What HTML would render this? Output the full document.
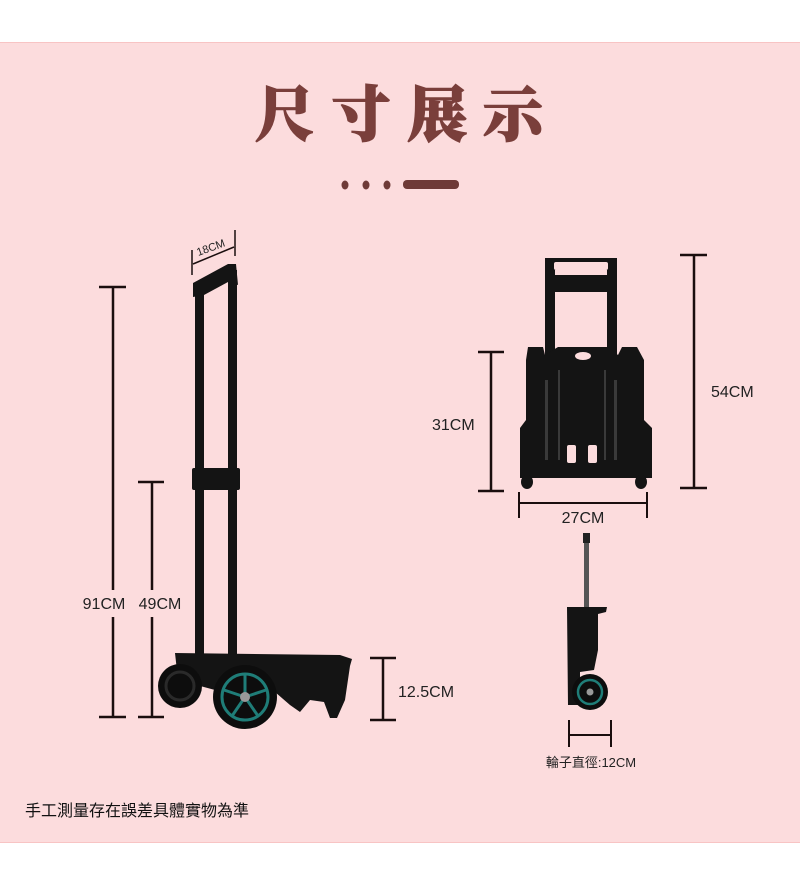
<!DOCTYPE html>
<html><head><meta charset="utf-8"><style>
html,body{margin:0;padding:0;background:#fff;}
svg{display:block;}
text{font-family:"Liberation Sans","Noto Sans CJK TC",sans-serif;}
</style></head><body>
<svg width="800" height="889" viewBox="0 0 800 889" xmlns="http://www.w3.org/2000/svg">
<rect x="0" y="0" width="800" height="889" fill="#fff"/>
<rect x="0" y="42" width="800" height="801" fill="#fcdcdd"/>
<rect x="0" y="42" width="800" height="1" fill="#f8c4c4"/>
<rect x="0" y="842" width="800" height="1" fill="#f8c4c4"/>
<!-- title -->
<text x="407" y="136" text-anchor="middle" font-size="60" font-weight="900" fill="#7a3f3b" letter-spacing="16" stroke="#7a3f3b" stroke-width="1.5" style="font-family:'Noto Serif CJK SC','Noto Serif CJK TC',serif">尺寸展示</text>
<g fill="#6e3a37">
<ellipse cx="345" cy="185" rx="3.5" ry="4.5"/><ellipse cx="366" cy="185" rx="3.5" ry="4.5"/><ellipse cx="387" cy="185" rx="3.5" ry="4.5"/>
<rect x="403" y="180" width="56" height="9" rx="4"/>
</g>

<!-- left dimension lines -->
<g stroke="#1a0e0e" stroke-width="2.5" fill="none">
<line x1="113" y1="287" x2="113" y2="590"/><line x1="113" y1="617" x2="113" y2="717"/>
<line x1="99" y1="287" x2="126" y2="287"/><line x1="99" y1="717" x2="126" y2="717"/>
<line x1="152" y1="482" x2="152" y2="590"/><line x1="152" y1="617" x2="152" y2="717"/>
<line x1="138" y1="482" x2="164" y2="482"/><line x1="138" y1="717" x2="164" y2="717"/>
<line x1="383" y1="658" x2="383" y2="720"/><line x1="370" y1="658" x2="396" y2="658"/><line x1="370" y1="720" x2="396" y2="720"/>
<line x1="192" y1="250" x2="192" y2="275" stroke-width="1.5"/><line x1="235" y1="230" x2="235" y2="256" stroke-width="1.5"/>
<line x1="193" y1="264" x2="234" y2="247" stroke-width="1.5"/>
</g>
<text x="104" y="609" text-anchor="middle" font-size="16" fill="#222">91CM</text>
<text x="160" y="609" text-anchor="middle" font-size="16" fill="#222">49CM</text>
<text x="398" y="697" font-size="16" fill="#222">12.5CM</text>
<text x="212" y="251" text-anchor="middle" font-size="11" fill="#222" transform="rotate(-20 212 251)">18CM</text>

<!-- left trolley -->
<g fill="#141414">
<rect x="195" y="290" width="9" height="375"/>
<rect x="228" y="270" width="9" height="395"/>
<polygon points="193,283 228,264 236,264 238,285 228,282 204,295 193,297"/>
<rect x="192" y="468" width="48" height="22" rx="2"/>
<polygon points="175,653 340,655 352,659 350,666 345,700 337,718 330,718 324,702 310,700 300,712 290,705 275,692 215,690 178,680"/>
</g>
<circle cx="180" cy="686" r="22" fill="#0d0d0d"/>
<circle cx="180" cy="686" r="14" fill="none" stroke="#2a2a2a" stroke-width="3"/>
<circle cx="245" cy="697" r="32" fill="#0d0d0d"/>
<circle cx="245" cy="697" r="23" fill="none" stroke="#1f7d78" stroke-width="3"/>
<g stroke="#1f7d78" stroke-width="3"><line x1="245" y1="697" x2="245" y2="675"/><line x1="245" y1="697" x2="266" y2="690"/><line x1="245" y1="697" x2="258" y2="716"/><line x1="245" y1="697" x2="232" y2="716"/><line x1="245" y1="697" x2="224" y2="690"/></g>
<circle cx="245" cy="697" r="5" fill="#999"/>

<!-- right top dimension lines -->
<g stroke="#1a0e0e" stroke-width="2.5" fill="none">
<line x1="694" y1="255" x2="694" y2="488"/><line x1="680" y1="255" x2="707" y2="255"/><line x1="680" y1="488" x2="707" y2="488"/>
<line x1="491" y1="352" x2="491" y2="491"/><line x1="478" y1="352" x2="504" y2="352"/><line x1="478" y1="491" x2="504" y2="491"/>
<line x1="519" y1="503" x2="647" y2="503" stroke-width="2"/><line x1="519" y1="492" x2="519" y2="518" stroke-width="2"/><line x1="647" y1="492" x2="647" y2="518" stroke-width="2"/>
</g>
<text x="711" y="397" font-size="16" fill="#222">54CM</text>
<text x="432" y="430" font-size="16" fill="#222">31CM</text>
<text x="583" y="523" text-anchor="middle" font-size="16" fill="#222">27CM</text>

<!-- right top trolley -->
<g fill="#141414">
<rect x="545" y="258" width="72" height="12" rx="3"/>
<rect x="545" y="275" width="72" height="17"/>
<rect x="545" y="258" width="10" height="215"/>
<rect x="607" y="258" width="10" height="215"/>
<polygon points="528,347 543,347 545,355 558,347 608,347 618,355 622,347 637,347 644,360 644,420 652,428 652,478 520,478 520,428 526,420 526,360"/>
<ellipse cx="527" cy="482" rx="6" ry="7"/><ellipse cx="641" cy="482" rx="6" ry="7"/>
</g>
<rect x="554" y="262" width="54" height="8" rx="2" fill="#fcdcdd"/>
<ellipse cx="583" cy="356" rx="8" ry="4" fill="#fcdcdd"/>
<rect x="567" y="445" width="9" height="18" rx="2" fill="#fcdcdd"/>
<rect x="588" y="445" width="9" height="18" rx="2" fill="#fcdcdd"/>
<g fill="#3a3a3a"><rect x="545" y="380" width="3" height="80"/><rect x="614" y="380" width="3" height="80"/><rect x="558" y="370" width="2" height="90"/><rect x="604" y="370" width="2" height="90"/></g>

<!-- side view -->
<rect x="584" y="533" width="5" height="80" fill="#555"/>
<rect x="583" y="533" width="7" height="10" fill="#222"/>
<polygon points="567,607 607,607 606,612 598,614 598,650 594,670 580,672 580,705 568,705" fill="#141414"/>
<circle cx="590" cy="692" r="18" fill="#0d0d0d"/>
<circle cx="590" cy="692" r="12" fill="none" stroke="#1f7d78" stroke-width="2.5"/>
<circle cx="590" cy="692" r="3.5" fill="#999"/>
<g stroke="#1a0e0e" stroke-width="2" fill="none">
<line x1="569" y1="735" x2="611" y2="735"/><line x1="569" y1="720" x2="569" y2="747"/><line x1="611" y1="720" x2="611" y2="747"/>
</g>
<text x="591" y="767" text-anchor="middle" font-size="13" fill="#222">輪子直徑:12CM</text>

<text x="25" y="816" font-size="16" fill="#111">手工測量存在誤差具體實物為準</text>
</svg>
</body></html>
